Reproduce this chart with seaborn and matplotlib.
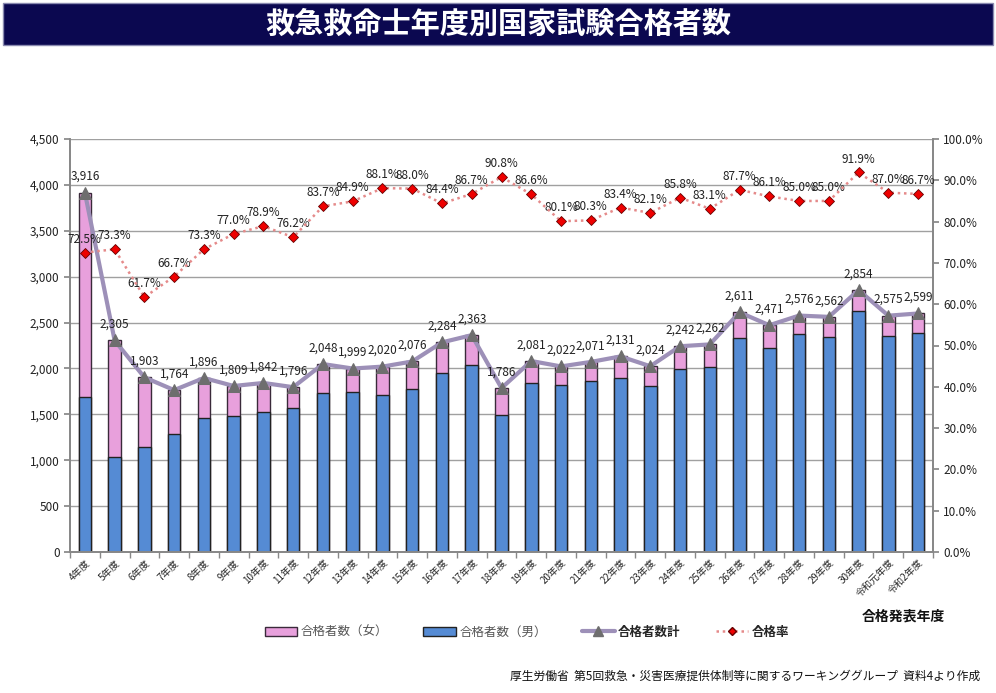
import numpy as np
import matplotlib
matplotlib.use("Agg")
import matplotlib.pyplot as plt
import seaborn as sns
from matplotlib.patches import Patch
from matplotlib.lines import Line2D
from matplotlib.ticker import FuncFormatter, MultipleLocator

years = ['4年度', '5年度', '6年度', '7年度', '8年度', '9年度', '10年度', '11年度',
         '12年度', '13年度', '14年度', '15年度', '16年度', '17年度', '18年度', '19年度',
         '20年度', '21年度', '22年度', '23年度', '24年度', '25年度', '26年度', '27年度',
         '28年度', '29年度', '30年度', '令和元年度', '令和2年度']
total = [3916, 2305, 1903, 1764, 1896, 1809, 1842, 1796, 2048, 1999, 2020, 2076, 2284,
         2363, 1786, 2081, 2022, 2071, 2131, 2024, 2242, 2262, 2611, 2471, 2576, 2562,
         2854, 2575, 2599]
male = [1690, 1040, 1140, 1290, 1460, 1480, 1530, 1570, 1735, 1745, 1710, 1778, 1945,
        2036, 1497, 1843, 1821, 1861, 1898, 1810, 1996, 2018, 2335, 2225, 2371, 2346,
        2629, 2356, 2389]
female = [2226, 1265, 763, 474, 436, 329, 312, 226, 313, 254, 310, 298, 339,
          327, 289, 238, 201, 210, 233, 214, 246, 244, 276, 246, 205, 216,
          225, 219, 210]
rate = [72.5, 73.3, 61.7, 66.7, 73.3, 77.0, 78.9, 76.2, 83.7, 84.9, 88.1, 88.0, 84.4,
        86.7, 90.8, 86.6, 80.1, 80.3, 83.4, 82.1, 85.8, 83.1, 87.7, 86.1, 85.0, 85.0,
        91.9, 87.0, 86.7]

sns.set_theme(style="white")
plt.rcParams['font.family'] = ['Noto Sans CJK JP', 'DejaVu Sans']

PINK = '#e8a0dc'
BLUE = '#558bd4'
LINE = '#9d90b8'
TRI = '#6e6e6e'
DOT = '#e58a8a'
RED = '#ee0000'

fig = plt.figure(figsize=(9.96, 6.93), dpi=100)

# title bar
fig.patches.append(plt.Rectangle((0.003, 1 - 45 / 693), 0.994, 42 / 693, transform=fig.transFigure,
                                 facecolor='#0b0850', edgecolor='#8a8ab0', lw=1))
fig.text(0.5, 1 - 24 / 693, '救急救命士年度別国家試験合格者数', color='white', fontsize=21,
         fontweight='bold', ha='center', va='center')

ax = fig.add_axes([70 / 996, 1 - 552 / 693, 863 / 996, 413 / 693])
x = np.arange(len(years))

# stacked: total height in pink (female part on top), male in blue drawn over it
sns.barplot(x=x, y=[m + f for m, f in zip(male, female)], ax=ax, color=PINK, width=0.42,
            edgecolor='#3a2a3a', linewidth=1, saturation=1, native_scale=True)
sns.barplot(x=x, y=male, ax=ax, color=BLUE, width=0.42, edgecolor='#222222', linewidth=1,
            saturation=1, native_scale=True)

sns.lineplot(x=x, y=total, ax=ax, color=LINE, lw=3, marker='^', markersize=8,
             markerfacecolor=TRI, markeredgecolor=TRI, zorder=5)
for xi, t in zip(x, total):
    ax.annotate(f'{t:,}', (xi, t), xytext=(0, 7), textcoords='offset points',
                ha='center', va='bottom', fontsize=8.5, color='#222222', zorder=6)

ax.set_xlim(-0.5, len(years) - 0.5)
ax.set_ylim(0, 4500)
ax.yaxis.set_major_locator(MultipleLocator(500))
ax.yaxis.set_major_formatter(FuncFormatter(lambda v, p: f'{int(v):,}'))
ax.grid(axis='y', color='#a0a0a0', lw=1)
ax.set_axisbelow(True)
ax.set_xticks(x)
ax.set_xticklabels(years, rotation=45, ha='right', rotation_mode='anchor', fontsize=7)
ax.set_xticks(np.arange(len(years) + 1) - 0.5, minor=True)
ax.tick_params(axis='x', which='major', length=0, pad=4)
ax.tick_params(axis='x', which='minor', length=4, color='#888888', bottom=True)
ax.tick_params(axis='y', labelsize=8.5, length=4, color='#888888', left=True, labelcolor='#222222')
ax.spines['top'].set_visible(False)
for side in ['left', 'right', 'bottom']:
    ax.spines[side].set_color('#888888')
ax.set_xlabel('')

ax2 = ax.twinx()
ax2.set_ylim(0, 100)
sns.lineplot(x=x, y=rate, ax=ax2, color=DOT, lw=1.8, linestyle=(0, (1, 1.5)), marker='D',
             markersize=5, markerfacecolor=RED, markeredgecolor='#660000', markeredgewidth=0.6,
             zorder=5)
for xi, r in zip(x, rate):
    ax2.annotate(f'{r:.1f}%', (xi, r), xytext=(0, 5), textcoords='offset points',
                 ha='center', va='bottom', fontsize=8.5, color='#222222')
ax2.yaxis.set_major_locator(MultipleLocator(10))
ax2.yaxis.set_major_formatter(FuncFormatter(lambda v, p: f'{v:.1f}%'))
ax2.tick_params(axis='y', labelsize=8.5, length=4, color='#888888', right=True, labelcolor='#222222')
ax2.grid(False)
ax2.spines['top'].set_visible(False)
for side in ['left', 'right', 'bottom']:
    ax2.spines[side].set_color('#888888')

fig.text(945 / 996, 1 - 617 / 693, '合格発表年度', fontsize=10, fontweight='bold',
         ha='right', va='center', color='#111111')

handles = [
    Patch(facecolor=PINK, edgecolor='#3a2a3a', label='合格者数（女）'),
    Patch(facecolor=BLUE, edgecolor='#222222', label='合格者数（男）'),
    Line2D([], [], color=LINE, lw=3, marker='^', markersize=7, markerfacecolor=TRI,
           markeredgecolor=TRI, label='合格者数計'),
    Line2D([], [], color=DOT, lw=1.8, linestyle=(0, (1, 1.5)), marker='D', markersize=4,
           markerfacecolor=RED, markeredgecolor='#660000', label='合格率'),
]
leg = fig.legend(handles=handles, loc='center', bbox_to_anchor=(527 / 996, 1 - 632 / 693),
                 ncol=4, frameon=False, fontsize=9, handlelength=2.6, handletextpad=0.3,
                 columnspacing=2.8)
for txt in leg.get_texts()[:2]:
    txt.set_color('#555555')
for txt in leg.get_texts()[2:]:
    txt.set_fontweight('bold')

fig.text(980 / 996, 1 - 676 / 693,
         '厚生労働省  第5回救急・災害医療提供体制等に関するワーキンググループ  資料4より作成',
         fontsize=8.5, ha='right', va='center', color='#111111')

fig.savefig('out.png', dpi=100)
